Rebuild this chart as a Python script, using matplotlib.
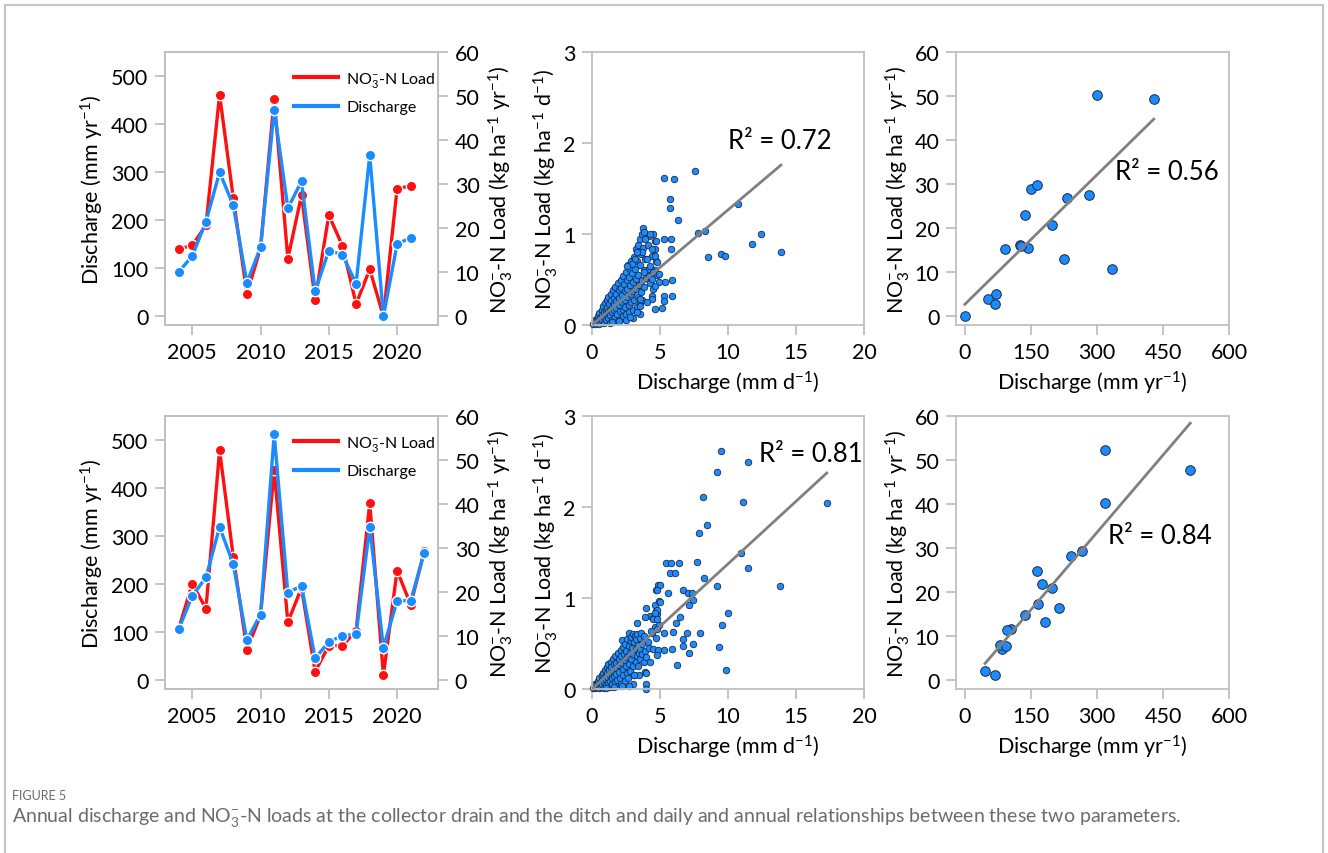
import numpy as np
import matplotlib
matplotlib.use('Agg')
import matplotlib.pyplot as plt
from matplotlib.patches import Rectangle
from matplotlib.lines import Line2D

plt.rcParams['font.family'] = ['Lato', 'DejaVu Sans']
plt.rcParams['mathtext.fontset'] = 'custom'
plt.rcParams['mathtext.rm'] = 'Lato'
plt.rcParams['mathtext.it'] = 'Lato:italic'
plt.rcParams['mathtext.bf'] = 'Lato:bold'

# ---------------- data ----------------
# collector drain (top row)
years_top = list(range(2004, 2022))
q_top = [92, 126, 197, 300, 231, 70, 144, 429, 225, 281, 52, 137, 128, 68, 335, 0, 150, 164]
load_top = [15.3, 16.1, 20.7, 50.3, 26.9, 5.1, 15.5, 49.4, 13.1, 27.5, 3.8, 23.0, 16.0, 2.8, 10.7, 0.0, 28.9, 29.7]

# ditch (bottom row)
years_bot = list(range(2004, 2023))
q_bot = [106, 176, 214, 319, 242, 84, 137, 512, 182, 197, 46, 80, 93, 96, 319, 68, 165, 166, 266]
load_bot = [11.7, 21.9, 16.3, 52.2, 28.1, 7.0, 14.8, 47.7, 13.2, 21.0, 2.0, 7.9, 7.8, 11.3, 40.2, 1.2, 24.9, 17.2, 29.4]

# daily discharge (mm/d) vs daily load (kg/ha/d), approximate read-off
daily_top = [
    (0.1, 0.01), (0.15, 0.03), (0.2, 0.02), (0.25, 0.05), (0.3, 0.01),
    (0.35, 0.07), (0.4, 0.03), (0.45, 0.10), (0.5, 0.05), (0.5, 0.01),
    (0.55, 0.13), (0.6, 0.08), (0.65, 0.03), (0.7, 0.17), (0.7, 0.11),
    (0.75, 0.06), (0.8, 0.21), (0.85, 0.14), (0.9, 0.09), (0.9, 0.02),
    (0.95, 0.24), (1.0, 0.17), (1.0, 0.12), (1.05, 0.05), (1.1, 0.27),
    (1.1, 0.20), (1.15, 0.14), (1.2, 0.08), (1.2, 0.31), (1.25, 0.23),
    (1.3, 0.17), (1.3, 0.02), (1.35, 0.11), (1.4, 0.34), (1.4, 0.27),
    (1.45, 0.20), (1.5, 0.14), (1.5, 0.06), (1.55, 0.38), (1.6, 0.30),
    (1.6, 0.23), (1.65, 0.16), (1.7, 0.09), (1.7, 0.42), (1.75, 0.34),
    (1.8, 0.26), (1.8, 0.19), (1.85, 0.12), (1.9, 0.04), (1.9, 0.46),
    (1.95, 0.38), (2.0, 0.30), (2.0, 0.22), (2.05, 0.15), (2.1, 0.50),
    (2.1, 0.07), (2.15, 0.41), (2.2, 0.33), (2.2, 0.25), (2.25, 0.17),
    (2.3, 0.54), (2.3, 0.10), (2.35, 0.45), (2.4, 0.37), (2.4, 0.28),
    (2.45, 0.20), (2.5, 0.58), (2.5, 0.12), (2.55, 0.49), (2.6, 0.40),
    (2.6, 0.31), (2.65, 0.66), (2.7, 0.22), (2.7, 0.53), (2.75, 0.14),
    (2.8, 0.44), (2.8, 0.62), (2.85, 0.34), (2.9, 0.70), (2.9, 0.25),
    (2.95, 0.57), (3.0, 0.47), (3.0, 0.16), (3.05, 0.37), (3.1, 0.75),
    (3.1, 0.28), (3.15, 0.62), (3.2, 0.51), (3.2, 0.84), (3.25, 0.40),
    (3.3, 0.20), (3.3, 0.70), (3.35, 0.31), (3.4, 0.88), (3.4, 0.55),
    (3.45, 0.44), (3.5, 0.95), (3.5, 0.25), (3.55, 0.66), (3.6, 0.36),
    (3.6, 0.78), (3.65, 0.50), (3.7, 1.00), (3.7, 0.28), (3.75, 0.85),
    (3.8, 0.60), (3.85, 0.42), (3.9, 0.72), (4.0, 0.52), (4.1, 0.88),
    (4.2, 0.62), (4.3, 0.46), (4.4, 0.76), (4.5, 0.40), (4.6, 0.60),
    (4.2, 0.98), (4.45, 1.00), (4.6, 0.92), (4.7, 0.70), (4.8, 0.55),
    (2.0, 0.04), (2.5, 0.05), (3.0, 0.08), (1.5, 0.03), (3.5, 0.12), (2.8, 0.09),
    (5.28, 1.61), (6.06, 1.60), (7.58, 1.69), (5.72, 1.39), (5.72, 1.29),
    (6.31, 1.15), (10.73, 1.33), (7.80, 1.01), (8.34, 1.03), (8.51, 0.75),
    (9.51, 0.78), (9.80, 0.76), (11.76, 0.89), (12.42, 1.00), (13.89, 0.80),
    (5.26, 0.95), (5.79, 0.95), (5.79, 0.84), (4.72, 0.92), (5.87, 0.49),
    (5.87, 0.32), (5.33, 0.32), (5.33, 0.26), (5.13, 0.19), (4.65, 0.18),
    (5.38, 0.47), (4.96, 0.56), (4.96, 0.47), (3.77, 1.07), (3.84, 1.02),
    (4.28, 1.00), (3.91, 0.95), (4.65, 0.84), (4.40, 0.84), (4.65, 0.76),
    (4.77, 0.69), (4.28, 0.65), (4.03, 0.73), (3.67, 0.80), (3.30, 0.80),
    (3.18, 0.73), (2.93, 0.67), (2.57, 0.65), (3.79, 0.58), (4.16, 0.54),
    (4.52, 0.58), (4.40, 0.51), (4.65, 0.43), (4.40, 0.32), (4.40, 0.29),
    (4.03, 0.25), (3.55, 0.29), (3.30, 0.14), (3.55, 0.21),
]
daily_bot = [
    (0.1, 0.01), (0.15, 0.03), (0.2, 0.01), (0.25, 0.05), (0.3, 0.02),
    (0.35, 0.07), (0.4, 0.03), (0.45, 0.09), (0.5, 0.05), (0.5, 0.01),
    (0.55, 0.12), (0.6, 0.07), (0.65, 0.02), (0.7, 0.15), (0.7, 0.10),
    (0.75, 0.05), (0.8, 0.18), (0.85, 0.12), (0.9, 0.08), (0.9, 0.01),
    (0.95, 0.21), (1.0, 0.15), (1.0, 0.10), (1.05, 0.04), (1.1, 0.24),
    (1.1, 0.18), (1.15, 0.12), (1.2, 0.07), (1.2, 0.27), (1.25, 0.21),
    (1.3, 0.15), (1.3, 0.02), (1.35, 0.09), (1.4, 0.30), (1.4, 0.24),
    (1.45, 0.18), (1.5, 0.12), (1.5, 0.05), (1.55, 0.33), (1.6, 0.27),
    (1.6, 0.20), (1.65, 0.14), (1.7, 0.08), (1.7, 0.36), (1.75, 0.29),
    (1.8, 0.23), (1.8, 0.16), (1.85, 0.10), (1.9, 0.03), (1.9, 0.40),
    (1.95, 0.33), (2.0, 0.26), (2.0, 0.19), (2.05, 0.12), (2.1, 0.43),
    (2.1, 0.06), (2.15, 0.36), (2.2, 0.29), (2.2, 0.54), (2.25, 0.15),
    (2.3, 0.46), (2.3, 0.22), (2.35, 0.39), (2.4, 0.32), (2.4, 0.09),
    (2.45, 0.50), (2.5, 0.25), (2.5, 0.42), (2.55, 0.18), (2.6, 0.35),
    (2.6, 0.55), (2.65, 0.12), (2.7, 0.47), (2.7, 0.28), (2.75, 0.62),
    (2.8, 0.40), (2.8, 0.20), (2.85, 0.53), (2.9, 0.33), (2.9, 0.57),
    (2.95, 0.45), (3.0, 0.25), (3.0, 0.60), (3.05, 0.38), (3.1, 0.52),
    (3.1, 0.15), (3.15, 0.58), (3.2, 0.44), (3.2, 0.30), (3.25, 0.55),
    (3.3, 0.36), (3.3, 0.60), (3.35, 0.48), (3.4, 0.25), (3.45, 0.40),
    (3.5, 0.56), (3.5, 0.33), (3.55, 0.44), (3.6, 0.62), (3.7, 0.38),
    (3.7, 0.50), (3.8, 0.30), (3.8, 0.58), (3.9, 0.42), (3.9, 0.19),
    (4.0, 0.35), (4.1, 0.52), (4.2, 0.45), (4.3, 0.30), (4.4, 0.62),
    (4.5, 0.44), (4.6, 0.68), (4.7, 0.56), (4.9, 0.70), (4.8, 0.82),
    (4.3, 0.80), (4.5, 0.78), (4.6, 0.92), (4.7, 0.86), (4.9, 0.97),
    (4.7, 1.09), (4.85, 1.14), (1.0, 0.01), (1.6, 0.02), (2.2, 0.03),
    (2.7, 0.03), (3.0, 0.05),
    (9.49, 2.62), (9.17, 2.39), (11.47, 2.50), (8.19, 2.11), (11.12, 2.05),
    (17.26, 2.04), (8.44, 1.80), (7.87, 1.71), (10.95, 1.49), (11.44, 1.33),
    (13.84, 1.13), (7.70, 1.40), (8.24, 1.22), (9.17, 1.13), (9.98, 0.83),
    (9.54, 0.70), (9.34, 0.46), (9.83, 0.21), (7.95, 0.61), (7.46, 0.50),
    (7.16, 0.40), (7.02, 0.61), (6.72, 0.55), (6.72, 0.47), (6.23, 0.26),
    (5.43, 1.39), (5.84, 1.39), (6.38, 1.38), (5.72, 1.28), (6.11, 1.28),
    (5.57, 1.06), (4.99, 1.14), (4.77, 1.09), (6.72, 1.09), (7.09, 1.05),
    (7.33, 1.05), (7.46, 0.98), (7.14, 0.92), (6.48, 0.79), (6.19, 0.73),
    (5.99, 0.63), (5.87, 0.44), (5.26, 0.43), (5.26, 0.62), (5.01, 0.96),
    (4.77, 0.87), (4.65, 0.84), (3.99, 0.89), (3.91, 0.79), (3.30, 0.72),
    (4.47, 0.77), (4.77, 0.77), (4.77, 0.66), (4.33, 0.64), (4.82, 0.43),
    (4.77, 0.37), (3.99, 0.18), (3.99, 0.06), (3.99, 0.00), (2.69, 0.03),
    (3.42, 0.15), (3.06, 0.15),
]

# fitted lines as drawn in the figure
daily_slope = [0.1265, 0.1375]          # through origin
annual_fit = [(0.098, 2.7), (0.1171, -1.59)]  # slope, intercept
r2_daily = ['0.72', '0.81']
r2_annual = ['0.56', '0.84']

# ---------------- styling ----------------
RED = '#ff0f0f'
BLUE = '#1a8cff'
EDGE = '#bfbfbf'
FIT = '#808080'
W, H = 1328, 854

fig = plt.figure(figsize=(W / 100, H / 100), dpi=100)


def px_axes(left, top, right, bottom):
    return fig.add_axes([left / W, 1 - bottom / H, (right - left) / W, (bottom - top) / H])


def style(ax):
    for s in ax.spines.values():
        s.set_color(EDGE)
        s.set_linewidth(1.3)
    ax.tick_params(direction='out', length=7, width=1.3, color=EDGE, labelsize=15.5, pad=5)


no3_label = 'NO$_3^{-}$-N Load (kg ha$^{-1}$ yr$^{-1}$)'


def annual_series(box, years, q, load, xmax):
    ax = px_axes(*box)
    ax2 = ax.twinx()
    ax2.plot(years, load, color=RED, lw=2.4, marker='o', ms=7.5, mec='white', mew=1.0)
    ax.plot(years, q, color=BLUE, lw=2.4, marker='o', ms=7.5, mec='white', mew=1.0)
    ax.set_zorder(ax2.get_zorder() + 1)
    ax.patch.set_visible(False)
    ax.set_xlim(2003, xmax)
    ax.set_xticks([2005, 2010, 2015, 2020])
    ax.set_ylim(-18, 550)
    ax.set_yticks(range(0, 501, 100))
    ax2.set_ylim(-1.96, 60)
    ax2.set_yticks(range(0, 61, 10))
    style(ax)
    style(ax2)
    ax.set_ylabel('Discharge (mm yr$^{-1}$)', fontsize=15.5, labelpad=4)
    ax2.set_ylabel(no3_label, fontsize=15.5, labelpad=5)
    handles = [Line2D([], [], color=RED, lw=3), Line2D([], [], color=BLUE, lw=3)]
    ax.legend(handles, ['NO$_3^{-}$-N Load', 'Discharge'], loc='upper left',
              bbox_to_anchor=(0.43, 0.975), frameon=False, fontsize=11.5, handlelength=2.8,
              handletextpad=0.5, labelspacing=0.7, borderpad=0.2)


def daily_scatter(box, pts, slope, r2, txt_xy):
    ax = px_axes(*box)
    pts = np.array(pts)
    ax.scatter(pts[:, 0], pts[:, 1], s=22, color=BLUE, edgecolor='#1c2a44', linewidth=0.6,
               clip_on=False, zorder=2)
    xmax = pts[:, 0].max()
    ax.plot([0, xmax], [0, slope * xmax], color=FIT, lw=2.0, zorder=3)
    ax.set_xlim(0, 20)
    ax.set_ylim(0, 3)
    ax.set_xticks([0, 5, 10, 15, 20])
    ax.set_yticks([0, 1, 2, 3])
    style(ax)
    ax.set_xlabel('Discharge (mm d$^{-1}$)', fontsize=15.5, labelpad=5)
    ax.set_ylabel('NO$_3^{-}$-N Load (kg ha$^{-1}$ d$^{-1}$)', fontsize=15.5, labelpad=2)
    ax.text(txt_xy[0], txt_xy[1], 'R² = ' + r2, fontsize=18.5, va='center', ha='left')


def annual_scatter(box, q, load, fit, r2, txt_xy):
    ax = px_axes(*box)
    ax.scatter(q, load, s=48, color=BLUE, edgecolor='#1c2a44', linewidth=0.7, zorder=2)
    xs = np.array([min(q), max(q)])
    ax.plot(xs, fit[0] * xs + fit[1], color=FIT, lw=2.0, zorder=3)
    ax.set_xlim(-20, 600)
    ax.set_ylim(-2, 60)
    ax.set_xticks([0, 150, 300, 450, 600])
    ax.set_yticks(range(0, 61, 10))
    style(ax)
    ax.set_xlabel('Discharge (mm yr$^{-1}$)', fontsize=15.5, labelpad=5)
    ax.set_ylabel(no3_label, fontsize=15.5, labelpad=2)
    ax.text(txt_xy[0], txt_xy[1], 'R² = ' + r2, fontsize=18.5, va='center', ha='left')


# top row: collector drain
annual_series((165, 53, 438, 326), years_top, q_top, load_top, 2023)
daily_scatter((592, 53, 864, 326), daily_top, daily_slope[0], r2_daily[0], (10.0, 2.03))
annual_scatter((956, 53, 1229, 326), q_top, load_top, annual_fit[0], r2_annual[0], (342, 32.9))

# bottom row: ditch
annual_series((165, 417, 438, 690), years_bot, q_bot, load_bot, 2023)
daily_scatter((592, 417, 864, 690), daily_bot, daily_slope[1], r2_daily[1], (12.27, 2.59))
annual_scatter((956, 417, 1229, 690), q_bot, load_bot, annual_fit[1], r2_annual[1], (325, 32.9))

# card frame and caption
fig.add_artist(Rectangle((5 / W, -0.05), 1318 / W, 1.05 - 6 / H, transform=fig.transFigure,
                         facecolor='none', edgecolor='#c4c4c4', lw=1.5))
fig.text(12 / W, 1 - 796 / H, 'FIGURE 5', fontsize=9, color='#6b6b6b', va='center', ha='left')
fig.text(12 / W, 1 - 818 / H,
         'Annual discharge and NO$_3^{-}$-N loads at the collector drain and the ditch and daily and '
         'annual relationships between these two parameters.',
         fontsize=14, color='#6b6b6b', va='center', ha='left')

fig.savefig('out.png', dpi=100, facecolor='white')
